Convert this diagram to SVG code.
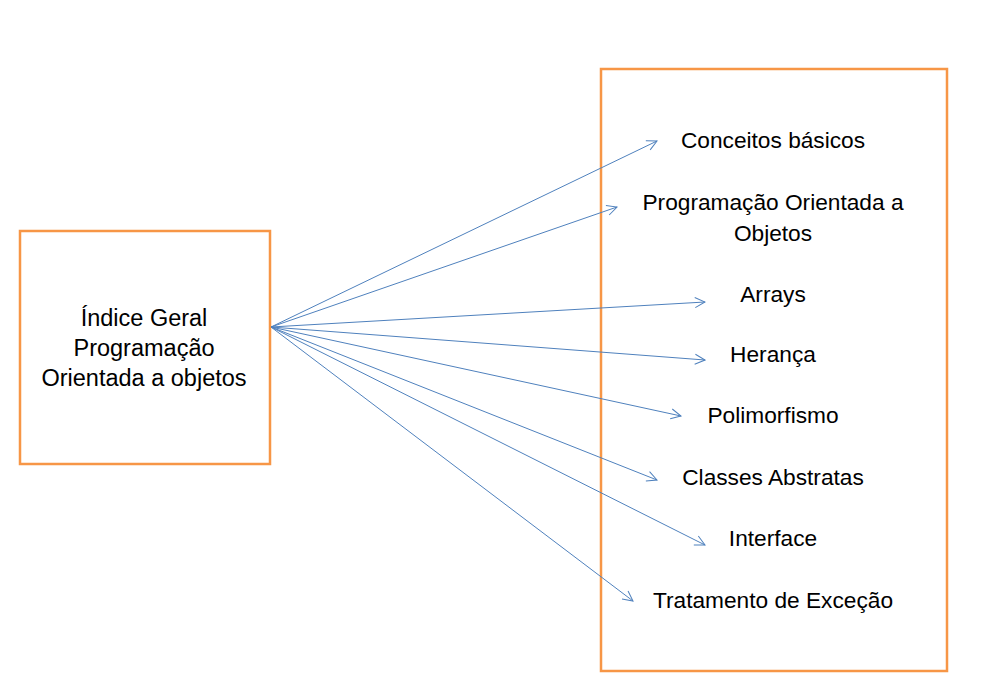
<svg xmlns="http://www.w3.org/2000/svg" width="987" height="696" viewBox="0 0 987 696">
<style>
.box{fill:#fff;stroke:#F79646;stroke-width:2.5}
.t{font-family:"Liberation Sans",Arial,sans-serif;font-size:22.7px;fill:#000;text-anchor:middle}
.l{font-size:23.5px}
.c{stroke:#4F81BD;stroke-width:1;fill:none;marker-end:url(#ah)}
</style>
<defs>
<marker id="ah" viewBox="0 0 12 12" refX="11" refY="6" markerWidth="12" markerHeight="12" markerUnits="userSpaceOnUse" orient="auto">
<path d="M1,1 L11,6 L1,11" fill="none" stroke="#4F81BD" stroke-width="1"/>
</marker>
</defs>
<rect width="987" height="696" fill="#fff"/>
<g id="left">
<rect class="box" x="20" y="231" width="250" height="233"/>
<text class="t l" x="144" y="326">Índice Geral</text>
<text class="t l" x="144" y="356">Programação</text>
<text class="t l" x="144" y="386">Orientada a objetos</text>
</g>
<g id="right">
<rect class="box" x="601" y="69" width="346" height="602" style="fill:none"/>
</g>
<g id="connectors">
<line class="c" x1="271" y1="327" x2="657" y2="141"/>
<line class="c" x1="271" y1="327" x2="617" y2="207"/>
<line class="c" x1="271" y1="327" x2="705" y2="302"/>
<line class="c" x1="271" y1="327" x2="705" y2="360"/>
<line class="c" x1="271" y1="327" x2="681" y2="416"/>
<line class="c" x1="271" y1="327" x2="657" y2="480"/>
<line class="c" x1="271" y1="327" x2="705" y2="545"/>
<line class="c" x1="271" y1="327" x2="633" y2="601"/>
</g>
<g id="n1"><text class="t" x="773" y="148">Conceitos básicos</text></g>
<g id="n2"><text class="t" x="773" y="210">Programação Orientada a</text><text class="t" x="773" y="241">Objetos</text></g>
<g id="n3"><text class="t" x="773" y="302">Arrays</text></g>
<g id="n4"><text class="t" x="773" y="362">Herança</text></g>
<g id="n5"><text class="t" x="773" y="423">Polimorfismo</text></g>
<g id="n6"><text class="t" x="773" y="485">Classes Abstratas</text></g>
<g id="n7"><text class="t" x="773" y="546">Interface</text></g>
<g id="n8"><text class="t" x="773" y="608">Tratamento de Exceção</text></g>
</svg>
